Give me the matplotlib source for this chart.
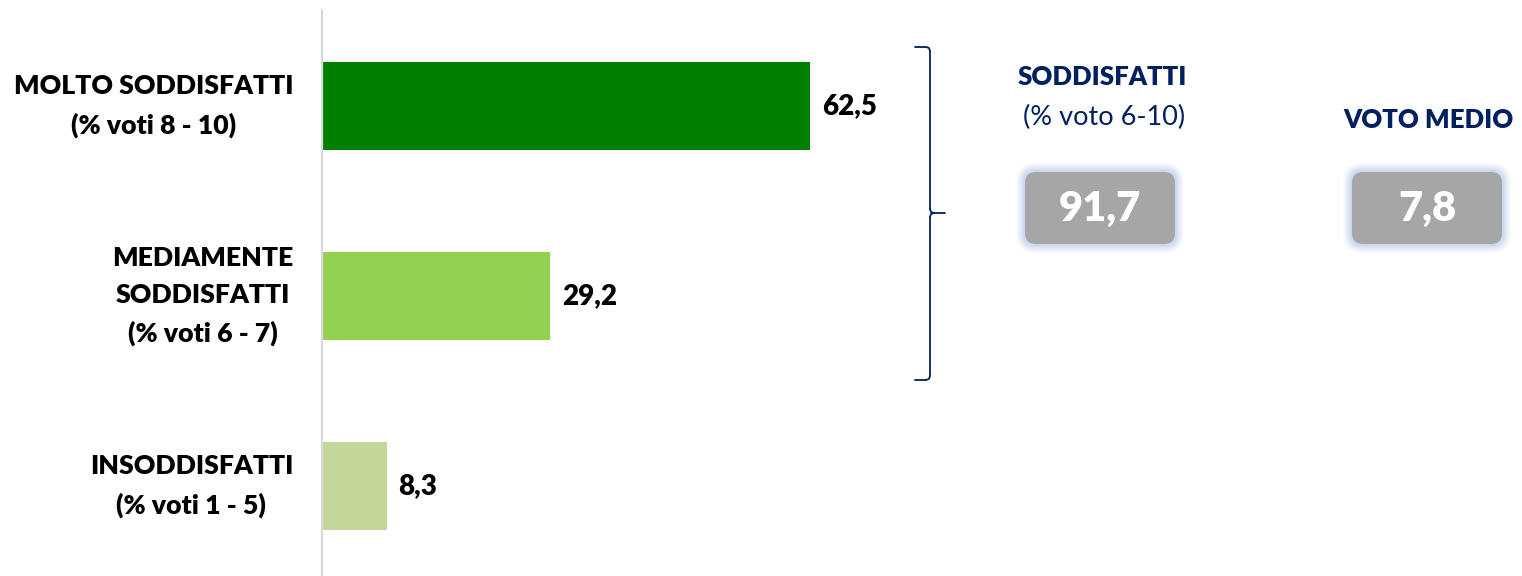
import matplotlib
matplotlib.use("Agg")
import matplotlib.pyplot as plt
from matplotlib.patches import FancyBboxPatch
from matplotlib.lines import Line2D

plt.rcParams['font.family'] = ['Lato', 'DejaVu Sans']

# Data
categories = ["MOLTO SODDISFATTI\n(% voti 8 - 10)",
              "MEDIAMENTE\nSODDISFATTI\n(% voti 6 - 7)",
              "INSODDISFATTI\n(% voti 1 - 5)"]
values = [62.5, 29.2, 8.3]
value_labels = ["62,5", "29,2", "8,3"]
bar_colors = ["#008000", "#92D050", "#C4D79B"]

summary_title = "SODDISFATTI"
summary_sub = "(% voto 6-10)"
summary_value = "91,7"
mean_title = "VOTO MEDIO"
mean_value = "7,8"

W, H = 1522, 576
DPI = 100
fig = plt.figure(figsize=(W / DPI, H / DPI), dpi=DPI)
fig.patch.set_facecolor("white")

NAVY = "#002060"
BOLD = "heavy"

# Bar axes (pixel placement converted to figure fractions)
ax_left, ax_right = 322, 322 + 781
ax_top, ax_bottom = 10, 576
ax = fig.add_axes([ax_left / W, 1 - ax_bottom / H,
                   (ax_right - ax_left) / W, (ax_bottom - ax_top) / H])
ypos = list(range(len(values)))
ax.barh(ypos, values, height=0.463, color=bar_colors, zorder=2)
ax.set_xlim(0, 100)
ax.set_ylim(2 + 90 / 190, -96 / 190)
for s in ["top", "right", "bottom"]:
    ax.spines[s].set_visible(False)
ax.spines["left"].set_color("#D9D9D9")
ax.spines["left"].set_linewidth(1.6)
ax.set_xticks([])
ax.set_yticks([])
ax.patch.set_alpha(0)

for y, v, lab in zip(ypos, values, value_labels):
    ax.text(v + 1.5, y, lab, va="center", ha="left", fontsize=20,
            fontweight=BOLD, color="black")

for y, cat in zip(ypos, categories):
    ax.annotate(cat, xy=(0, y), xycoords=("axes fraction", "data"),
                xytext=(-29, 0), textcoords="offset pixels",
                ha="right", va="center", fontsize=19.2, fontweight=BOLD,
                linespacing=1.65, multialignment="center",
                annotation_clip=False)

# Overlay in pixel coordinates for bracket and summary boxes
ov = fig.add_axes([0, 0, 1, 1])
ov.set_xlim(0, W)
ov.set_ylim(H, 0)
ov.axis("off")
ov.patch.set_alpha(0)

# Curly-style bracket
bx = 930
kw = dict(color=NAVY, lw=1.3, solid_capstyle="round")
ov.add_line(Line2D([915, bx - 4], [47, 47], **kw))
ov.add_line(Line2D([915, bx - 4], [380, 380], **kw))
ov.add_line(Line2D([bx, bx], [51, 209], **kw))
ov.add_line(Line2D([bx, bx], [217, 376], **kw))
ov.plot([bx - 4, bx - 1, bx], [47, 48, 51], **kw)
ov.plot([bx - 4, bx - 1, bx], [380, 379, 376], **kw)
ov.plot([bx, bx + 1, bx + 4], [209, 212, 213], **kw)
ov.plot([bx, bx + 1, bx + 4], [217, 214, 213], **kw)
ov.add_line(Line2D([bx + 4, 945], [213, 213], **kw))


def value_box(cx, text):
    x0, x1, y0, y1 = cx - 75, cx + 75, 172, 244
    # soft glow
    for i, a in enumerate([0.10, 0.14, 0.18, 0.24, 0.30]):
        pad = 9 - i * 1.8
        ov.add_patch(FancyBboxPatch((x0 - pad, y0 - pad), (x1 - x0) + 2 * pad,
                                    (y1 - y0) + 2 * pad,
                                    boxstyle="round,pad=0,rounding_size=%f" % (11 + pad),
                                    fc="#B4C7EE", ec="none", alpha=a, zorder=1))
    ov.add_patch(FancyBboxPatch((x0, y0), x1 - x0, y1 - y0,
                                boxstyle="round,pad=0,rounding_size=11",
                                fc="#A6A6A6", ec="none", zorder=2))
    ov.text(cx, (y0 + y1) / 2 + 1, text, ha="center", va="center",
            fontsize=30, fontweight=BOLD, color="white", zorder=3)


ov.text(1102, 77, summary_title, ha="center", va="center", fontsize=18.5,
        fontweight=BOLD, color=NAVY)
ov.text(1104, 117, summary_sub, ha="center", va="center", fontsize=19.5,
        color=NAVY)
value_box(1100, summary_value)

ov.text(1428, 120, mean_title, ha="center", va="center", fontsize=18.5,
        fontweight=BOLD, color=NAVY)
value_box(1427, mean_value)

fig.savefig("out.png", dpi=DPI, facecolor="white")
